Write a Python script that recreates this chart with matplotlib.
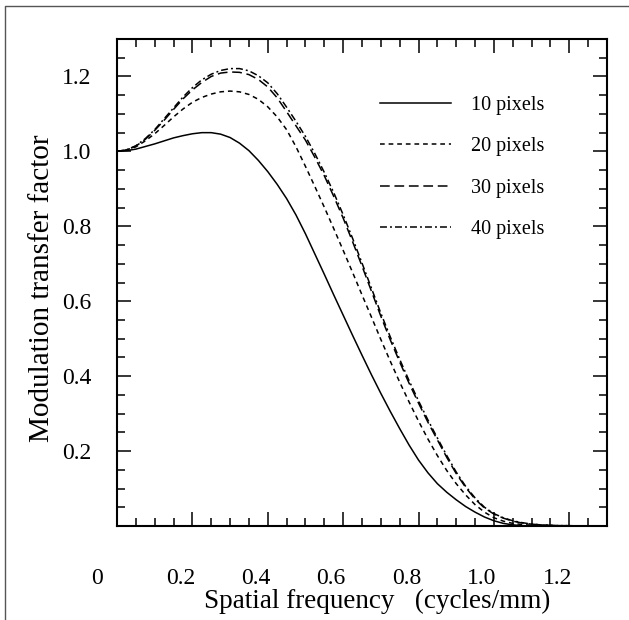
import matplotlib
matplotlib.use("Agg")
import matplotlib.pyplot as plt
from matplotlib.lines import Line2D
from matplotlib.ticker import MultipleLocator
from matplotlib.transforms import ScaledTranslation

plt.rcParams['font.family'] = ['Liberation Serif', 'DejaVu Serif']
plt.rcParams['lines.scale_dashes'] = False

# spatial frequency (cycles/mm)
freq = [0.000, 0.025, 0.050, 0.075, 0.100, 0.125, 0.150, 0.175, 0.200, 0.225,
        0.250, 0.275, 0.300, 0.325, 0.350, 0.375, 0.400, 0.425, 0.450, 0.475,
        0.500, 0.525, 0.550, 0.575, 0.600, 0.625, 0.650, 0.675, 0.700, 0.725,
        0.750, 0.775, 0.800, 0.825, 0.850, 0.875, 0.900, 0.925, 0.950, 0.975,
        1.000, 1.025, 1.050, 1.075, 1.100, 1.125, 1.150, 1.175, 1.200, 1.225]

# modulation transfer factor for each window size
mtf_10 = [1.000, 1.002, 1.006, 1.013, 1.020, 1.028, 1.036, 1.042, 1.047, 1.050,
          1.050, 1.046, 1.037, 1.022, 1.002, 0.976, 0.946, 0.912, 0.874, 0.830,
          0.780, 0.726, 0.672, 0.617, 0.563, 0.509, 0.456, 0.404, 0.354, 0.306,
          0.260, 0.216, 0.176, 0.142, 0.113, 0.090, 0.070, 0.052, 0.037, 0.024,
          0.014, 0.007, 0.003, 0.001, 0.000, 0.000, 0.000, 0.000, 0.000, 0.000]
mtf_20 = [1.000, 1.004, 1.012, 1.028, 1.047, 1.069, 1.092, 1.113, 1.131, 1.144,
          1.153, 1.159, 1.161, 1.159, 1.152, 1.139, 1.119, 1.092, 1.058, 1.012,
          0.960, 0.906, 0.851, 0.794, 0.736, 0.677, 0.617, 0.558, 0.498, 0.440,
          0.384, 0.331, 0.280, 0.232, 0.188, 0.148, 0.113, 0.083, 0.057, 0.037,
          0.022, 0.013, 0.007, 0.004, 0.002, 0.001, 0.001, 0.000, 0.000, 0.000]
mtf_30 = [1.000, 1.004, 1.014, 1.032, 1.056, 1.083, 1.112, 1.140, 1.164, 1.184,
          1.200, 1.209, 1.212, 1.211, 1.205, 1.192, 1.172, 1.143, 1.106, 1.068,
          1.030, 0.984, 0.935, 0.880, 0.822, 0.759, 0.694, 0.627, 0.560, 0.497,
          0.438, 0.381, 0.328, 0.277, 0.230, 0.183, 0.140, 0.103, 0.072, 0.048,
          0.032, 0.021, 0.013, 0.008, 0.005, 0.003, 0.002, 0.001, 0.001, 0.000]
mtf_40 = [1.000, 1.004, 1.015, 1.034, 1.058, 1.087, 1.116, 1.145, 1.170, 1.191,
          1.206, 1.216, 1.221, 1.221, 1.215, 1.202, 1.183, 1.154, 1.118, 1.080,
          1.040, 0.994, 0.944, 0.890, 0.831, 0.768, 0.702, 0.635, 0.568, 0.505,
          0.445, 0.388, 0.334, 0.283, 0.235, 0.188, 0.144, 0.106, 0.075, 0.050,
          0.033, 0.022, 0.014, 0.009, 0.005, 0.003, 0.002, 0.001, 0.001, 0.000]

labels = ['10 pixels', '20 pixels', '30 pixels', '40 pixels']
xticks = [0, 0.2, 0.4, 0.6, 0.8, 1.0, 1.2]
xticklabels = ['0', '0.2', '0.4', '0.6', '0.8', '1.0', '1.2']
yticks = [0.2, 0.4, 0.6, 0.8, 1.0, 1.2]
yticklabels = ['0.2', '0.4', '0.6', '0.8', '1.0', '1.2']

fig = plt.figure(figsize=(6.29, 6.20), dpi=100)
ax = fig.add_axes([0.186, 0.1516, 0.779, 0.7855])

lw = 1.1
ax.plot(freq, mtf_10, color='black', lw=lw, label=labels[0])
ax.plot(freq, mtf_20, color='black', lw=lw, dashes=(3.4, 2.8), label=labels[1])
ax.plot(freq, mtf_30, color='black', lw=lw, dashes=(7.0, 3.4), label=labels[2])
ax.plot(freq, mtf_40, color='black', lw=lw, dashes=(5.0, 2.2, 1.4, 2.2), label=labels[3])

ax.set_xlim(0, 1.3)
ax.set_ylim(0, 1.3)

ax.set_xticks(xticks)
ax.set_xticklabels(xticklabels)
ax.set_yticks(yticks)
ax.set_yticklabels(yticklabels)
ax.xaxis.set_minor_locator(MultipleLocator(0.05))
ax.yaxis.set_minor_locator(MultipleLocator(0.05))
ax.tick_params(which='both', direction='in', top=True, right=True, width=1.1)
ax.tick_params(which='major', length=10)
ax.tick_params(which='minor', length=5.5)
ax.tick_params(axis='x', pad=30, labelsize=17)
ax.tick_params(axis='y', pad=18.5, labelsize=17)
for s in ax.spines.values():
    s.set_linewidth(1.5)

# labels in the scan sit a bit left of their ticks
for lab in ax.get_xticklabels():
    dx = -0.20 if lab.get_text() == '0' else -0.12
    lab.set_transform(lab.get_transform() + ScaledTranslation(dx, 0, fig.dpi_scale_trans))

ax.set_xlabel('Spatial frequency   (cycles/mm)', fontsize=19.5)
ax.xaxis.set_label_coords(0.53, -0.129)
ax.set_ylabel('Modulation transfer factor', fontsize=21)
ax.yaxis.set_label_coords(-0.126, 0.489)

ax.legend(loc='upper left', bbox_to_anchor=(0.537, 0.883), frameon=False,
          fontsize=14.5, handlelength=3.5, handletextpad=1.0, labelspacing=1.1,
          borderpad=0, borderaxespad=0)

# page frame (top and left edges)
fig.add_artist(Line2D([5 / 629, 5 / 629, 1], [0, 1 - 6 / 620, 1 - 6 / 620],
                      transform=fig.transFigure, color='#555555', lw=1.0))

fig.savefig('out.png', dpi=100)
